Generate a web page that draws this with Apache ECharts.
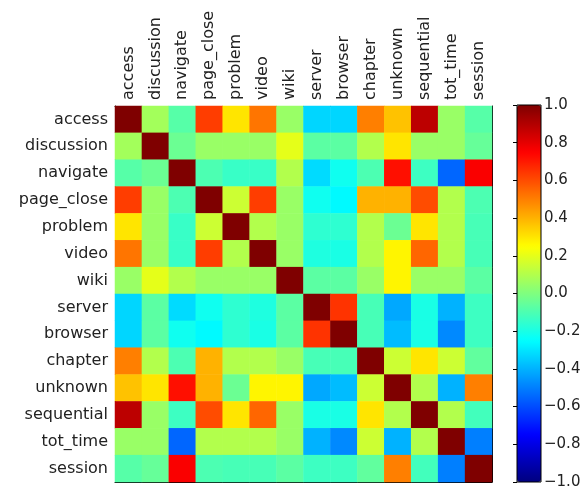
<!DOCTYPE html>
<html>
<head>
<meta charset="utf-8">
<script src="https://cdn.jsdelivr.net/npm/echarts@6/dist/echarts.min.js"></script>
<style>
html,body{margin:0;padding:0;background:#fff;}
#chart{width:586px;height:491px;}
</style>
</head>
<body>
<div id="chart"></div>
<script>
var categories = ['access','discussion','navigate','page_close','problem','video','wiki','server','browser','chapter','unknown','sequential','tot_time','session'];

var rowAccess     = [1.00, 0.07,-0.08, 0.63, 0.30, 0.52, 0.05,-0.33,-0.33, 0.50, 0.37, 0.88, 0.05,-0.08];
var rowDiscussion = [0.07, 1.00,-0.04, 0.05, 0.05, 0.05, 0.20,-0.07,-0.07, 0.10, 0.30, 0.05, 0.05,-0.05];
var rowNavigate   = [-0.08,-0.04, 1.00,-0.10,-0.14,-0.14, 0.10,-0.32,-0.22,-0.10, 0.72,-0.13,-0.55, 0.76];
var rowPageClose  = [0.63, 0.05,-0.10, 1.00, 0.15, 0.63, 0.05,-0.22,-0.26, 0.40, 0.40, 0.60, 0.10,-0.10];
var rowProblem    = [0.30, 0.05,-0.14, 0.15, 1.00, 0.10, 0.05,-0.16,-0.16, 0.10,-0.04, 0.30, 0.10,-0.11];
var rowVideo      = [0.52, 0.05,-0.14, 0.63, 0.10, 1.00, 0.05,-0.19,-0.20, 0.10, 0.27, 0.55, 0.10,-0.11];
var rowWiki       = [0.05, 0.20, 0.10, 0.05, 0.05, 0.05, 1.00,-0.07,-0.07, 0.05, 0.27, 0.05, 0.05,-0.07];
var rowServer     = [-0.33,-0.07,-0.32,-0.22,-0.16,-0.19,-0.07, 1.00, 0.65,-0.11,-0.42,-0.20,-0.40,-0.13];
var rowBrowser    = [-0.33,-0.07,-0.22,-0.26,-0.16,-0.20,-0.07, 0.65, 1.00,-0.11,-0.38,-0.20,-0.48,-0.13];
var rowChapter    = [0.50, 0.10,-0.10, 0.40, 0.10, 0.10, 0.05,-0.11,-0.11, 1.00, 0.15, 0.30, 0.15,-0.06];
var rowUnknown    = [0.37, 0.30, 0.72, 0.40,-0.04, 0.27, 0.27,-0.42,-0.38, 0.15, 1.00, 0.10,-0.40, 0.50];
var rowSequential = [0.88, 0.05,-0.13, 0.60, 0.30, 0.55, 0.05,-0.20,-0.20, 0.30, 0.10, 1.00, 0.10,-0.12];
var rowTotTime    = [0.05, 0.05,-0.55, 0.10, 0.10, 0.10, 0.05,-0.40,-0.48, 0.15,-0.40, 0.10, 1.00,-0.50];
var rowSession    = [-0.08,-0.05, 0.76,-0.10,-0.11,-0.11,-0.07,-0.13,-0.13,-0.06, 0.50,-0.12,-0.50, 1.00];

var matrix = [rowAccess,rowDiscussion,rowNavigate,rowPageClose,rowProblem,rowVideo,rowWiki,
              rowServer,rowBrowser,rowChapter,rowUnknown,rowSequential,rowTotTime,rowSession];

var jet = ['#00007f','#0000ff','#007fff','#00ffff','#7fff7f','#ffff00','#ff7f00','#ff0000','#7f0000'];

var data = [];
for (var r = 0; r < matrix.length; r++) {
  for (var c = 0; c < matrix[r].length; c++) {
    data.push([c, r, matrix[r][c]]);
  }
}

var FONT = 'DejaVu Sans';
var TXT = '#222';
var chart = echarts.init(document.getElementById('chart'), null, {renderer: 'canvas'});
var tick = {show: true, inside: true, alignWithLabel: true, length: 4, lineStyle: {color: '#000', width: 1}};
var line = {show: true, lineStyle: {color: '#000', width: 1}};

chart.setOption({
  backgroundColor: '#fff',
  animation: false,
  grid: [
    {left: 115, top: 106, width: 377, height: 376, containLabel: false},
    {left: 517, top: 105, width: 24, height: 377, show: true, borderColor: '#000', borderWidth: 1, backgroundColor: 'transparent', z: 10}
  ],
  xAxis: [
    {type: 'category', data: categories, gridIndex: 0, position: 'top',
     axisLine: line, axisTick: tick, splitLine: {show: false},
     axisLabel: {rotate: -90, margin: 6, fontFamily: FONT, fontSize: 16, color: TXT}},
    {type: 'category', data: categories, gridIndex: 0, position: 'bottom',
     axisLine: line, axisTick: tick, axisLabel: {show: false}, splitLine: {show: false}},
    {type: 'value', gridIndex: 1, show: false, min: 0, max: 1}
  ],
  yAxis: [
    {type: 'category', data: categories, gridIndex: 0, inverse: true, position: 'left',
     axisLine: line, axisTick: tick, splitLine: {show: false},
     axisLabel: {margin: 7, fontFamily: FONT, fontSize: 16, color: TXT}},
    {type: 'category', data: categories, gridIndex: 0, inverse: true, position: 'right',
     axisLine: line, axisTick: tick, axisLabel: {show: false}, splitLine: {show: false}},
    {type: 'value', gridIndex: 1, position: 'right', min: -1, max: 1, interval: 0.2, z: 10,
     axisLine: {show: false}, splitLine: {show: false},
     axisTick: {show: true, inside: true, length: 4, lineStyle: {color: '#000'}},
     axisLabel: {margin: 3, fontFamily: FONT, fontSize: 15, color: TXT,
       formatter: function (v) { if (Math.abs(v) < 1e-9) v = 0; return v.toFixed(1).replace('-', '\u2212'); }}}
  ],
  visualMap: {
    type: 'continuous', min: -1, max: 1, calculable: false, orient: 'vertical',
    left: 517, top: 105, itemWidth: 24, itemHeight: 377, padding: 0,
    seriesIndex: 0, inRange: {color: jet}, text: null, showLabel: false
  },
  series: [{
    type: 'heatmap', xAxisIndex: 0, yAxisIndex: 0, data: data,
    itemStyle: {borderWidth: 0}, emphasis: {disabled: true}, progressive: 0
  }]
});
</script>
</body>
</html>
